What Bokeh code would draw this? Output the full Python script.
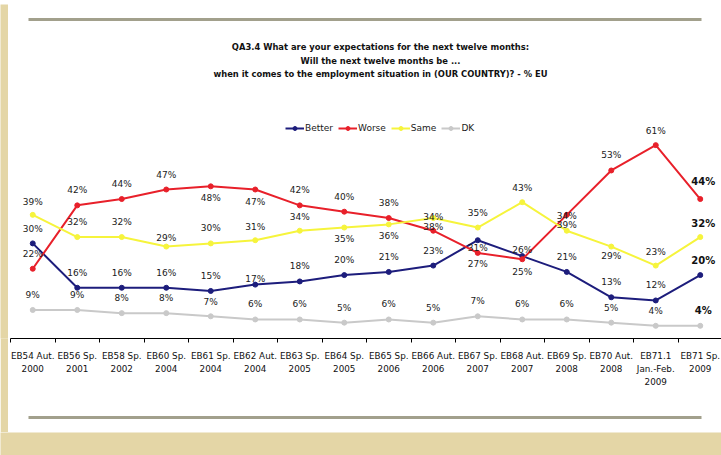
from bokeh.plotting import figure
from bokeh.models import (Range1d, FixedTicker, Legend, LegendItem, ColumnDataSource,
                          BoxAnnotation, LinearAxis)
from bokeh.layouts import column, row
from bokeh.embed import file_html
from bokeh.resources import INLINE

# ---------------- data ----------------
waves = ["EB54 Aut.\n2000", "EB56 Sp.\n2001", "EB58 Sp.\n2002", "EB60 Sp.\n2004",
         "EB61 Sp.\n2004", "EB62 Aut.\n2004", "EB63 Sp.\n2005", "EB64 Sp.\n2005",
         "EB65 Sp.\n2006", "EB66 Aut.\n2006", "EB67 Sp.\n2007", "EB68 Aut.\n2007",
         "EB69 Sp.\n2008", "EB70 Aut.\n2008", "EB71.1\nJan.-Feb.\n2009", "EB71 Sp.\n2009"]
better = [30, 16, 16, 16, 15, 17, 18, 20, 21, 23, 31, 26, 21, 13, 12, 20]
worse = [22, 42, 44, 47, 48, 47, 42, 40, 38, 34, 27, 25, 39, 53, 61, 44]
same = [39, 32, 32, 29, 30, 31, 34, 35, 36, 38, 35, 43, 34, 29, 23, 32]
dk = [9, 9, 8, 8, 7, 6, 6, 5, 6, 5, 7, 6, 6, 5, 4, 4]
series_names = ["Better", "Worse", "Same", "DK"]

title_lines = ["QA3.4 What are your expectations for the next twelve months:",
               "Will the next twelve months be ...",
               "when it comes to the employment situation in (OUR COUNTRY)? - % EU"]

# ---------------- style / layout ----------------
colors = {"Better": "#1d1d7c", "Worse": "#e8202a", "Same": "#f6f43c", "DK": "#c9c9c9"}
label_dy = {
    "Better": [-14, -15, -15, -15, -15, -6, -15, -15, -15, -15, 8, -6, -15, -15, -15, -15],
    "Worse":  [-15, -15, -15, -15, 12, 12, -15, -15, -15, -14, 11, 13, 10, -15, -14, -18],
    "Same":   [-13, -15, -15, -9, -15, -13, -14, 11, 12, 9, -15, -14, -15, 9, -14, -14],
    "DK":     [-15, -15, -15, -15, -14, -15, -15, -15, -15, -15, -15, -15, -15, -15, -15, -15],
}
FONT = "DejaVu Sans"
TITLE_FONT = "DejaVu Sans Condensed"
TAN = "#e4d6a6"
SEP = "#a2a08c"

PAGE_W, PAGE_H = 721, 455
PANEL_L, PANEL_T, PANEL_B = 8, 4, 432       # white panel (absolute px)
FRAME_L = 10                                # frame left (absolute px)
AXIS_Y = 338                                # axis line (absolute px)
PX_PER_CAT = 44.5
PX_PER_PCT = 3.17
n = len(waves)
X_START = -0.5
X_END = X_START + (PAGE_W - FRAME_L) / PX_PER_CAT
Y_END = (AXIS_Y - PANEL_T) / PX_PER_PCT


def px_to_x(px):
    return X_START + (px - FRAME_L) / PX_PER_CAT


def px_to_y(py):
    return (AXIS_Y - py) / PX_PER_PCT


def tan_block(w, h):
    f = figure(width=w, height=h, output_backend="svg", toolbar_location=None,
               x_axis_location=None, y_axis_location=None,
               min_border=0, x_range=Range1d(0, 1), y_range=Range1d(0, 1))
    f.border_fill_color = TAN
    f.background_fill_color = TAN
    f.outline_line_color = None
    f.grid.visible = False
    return f


W = PAGE_W - PANEL_L
H = PANEL_B - PANEL_T

p = figure(width=W, height=H, output_backend="svg", toolbar_location=None,
           x_range=Range1d(X_START, X_END), y_range=Range1d(0, Y_END),
           y_axis_location=None,
           min_border_left=FRAME_L - PANEL_L, min_border_right=0, min_border_top=0,
           min_border_bottom=PANEL_B - AXIS_Y)
p.border_fill_color = "white"
p.background_fill_color = "white"
p.outline_line_color = None
p.grid.visible = False

# top separator
p.add_layout(BoxAnnotation(left=px_to_x(28), right=px_to_x(701),
                           top=px_to_y(17.5), bottom=px_to_y(20.5),
                           fill_color=SEP, fill_alpha=1, line_color=None))

# title
tsrc = ColumnDataSource(dict(x=[px_to_x(380)] * 3,
                             y=[px_to_y(46), px_to_y(59.5), px_to_y(73)],
                             t=title_lines))
p.text("x", "y", text="t", source=tsrc, text_align="center", text_baseline="middle",
       text_font={"value": TITLE_FONT}, text_font_style="bold",
       text_font_size="9.3px", text_color="#111111")

xs = list(range(n))
data = {"Better": better, "Worse": worse, "Same": same, "DK": dk}

items = []
for name in series_names:
    vals = data[name]
    src = ColumnDataSource(dict(x=xs, y=vals))
    ln = p.line("x", "y", source=src, line_color=colors[name], line_width=2)
    sc = p.scatter("x", "y", source=src, size=5, fill_color=colors[name],
                   line_color=colors[name])
    items.append(LegendItem(label=name, renderers=[ln, sc]))

for name in series_names:
    vals = data[name]
    src = ColumnDataSource(dict(x=xs[:-1], y=vals[:-1],
                                lab=[f"{v}%" for v in vals[:-1]],
                                dy=label_dy[name][:-1]))
    p.text("x", "y", text="lab", y_offset="dy", source=src, text_align="center",
           text_baseline="middle", text_font_size="9px", text_color="#1a1a1a",
           text_font={"value": FONT})
    src2 = ColumnDataSource(dict(x=xs[-1:], y=vals[-1:],
                                 lab=[f"{v}%" for v in vals[-1:]],
                                 dy=label_dy[name][-1:]))
    p.text("x", "y", text="lab", y_offset="dy", x_offset=3, source=src2,
           text_align="center", text_baseline="middle", text_font_size="10px",
           text_color="#111111", text_font_style="bold", text_font={"value": FONT})

legend = Legend(items=items, orientation="horizontal",
                location=(285 - FRAME_L, AXIS_Y - 133),
                glyph_width=19, glyph_height=10, label_height=10, label_standoff=1,
                spacing=5, padding=0, margin=0, border_line_color=None,
                background_fill_alpha=0, label_text_font=FONT,
                label_text_font_size="9px", label_text_color="#1a1a1a")
p.add_layout(legend, "center")

ax = p.xaxis[0]
ax.ticker = FixedTicker(ticks=xs, minor_ticks=[i - 0.5 for i in range(n + 1)])
ax.major_label_overrides = {i: waves[i] for i in xs}
ax.major_tick_in = 0
ax.major_tick_out = 0
ax.minor_tick_in = 0
ax.minor_tick_out = 4
ax.minor_tick_line_color = "#000000"
ax.axis_line_color = "#000000"
ax.axis_line_width = 1
ax.major_label_standoff = 8
ax.major_label_text_font = FONT
ax.major_label_text_font_size = "8.8px"
ax.major_label_text_line_height = 1.3
ax.major_label_text_color = "#111111"
ax.axis_label = " "
ax.axis_label_text_font_size = "10px"
ax.axis_label_standoff = 14

# bottom separator as a bare axis line
sep_axis = LinearAxis(ticker=FixedTicker(ticks=[]), bounds=(px_to_x(28), px_to_x(701)),
                      axis_line_color=SEP, axis_line_width=3,
                      major_tick_in=0, major_tick_out=0, minor_tick_in=0, minor_tick_out=0,
                      major_label_text_font_size="0px")
p.add_layout(sep_axis, "below")

layout = column(tan_block(PAGE_W, PANEL_T),
                row(tan_block(PANEL_L, H), p),
                tan_block(PAGE_W, PAGE_H - PANEL_B))
open("out.html", "w").write(file_html(layout, INLINE))
